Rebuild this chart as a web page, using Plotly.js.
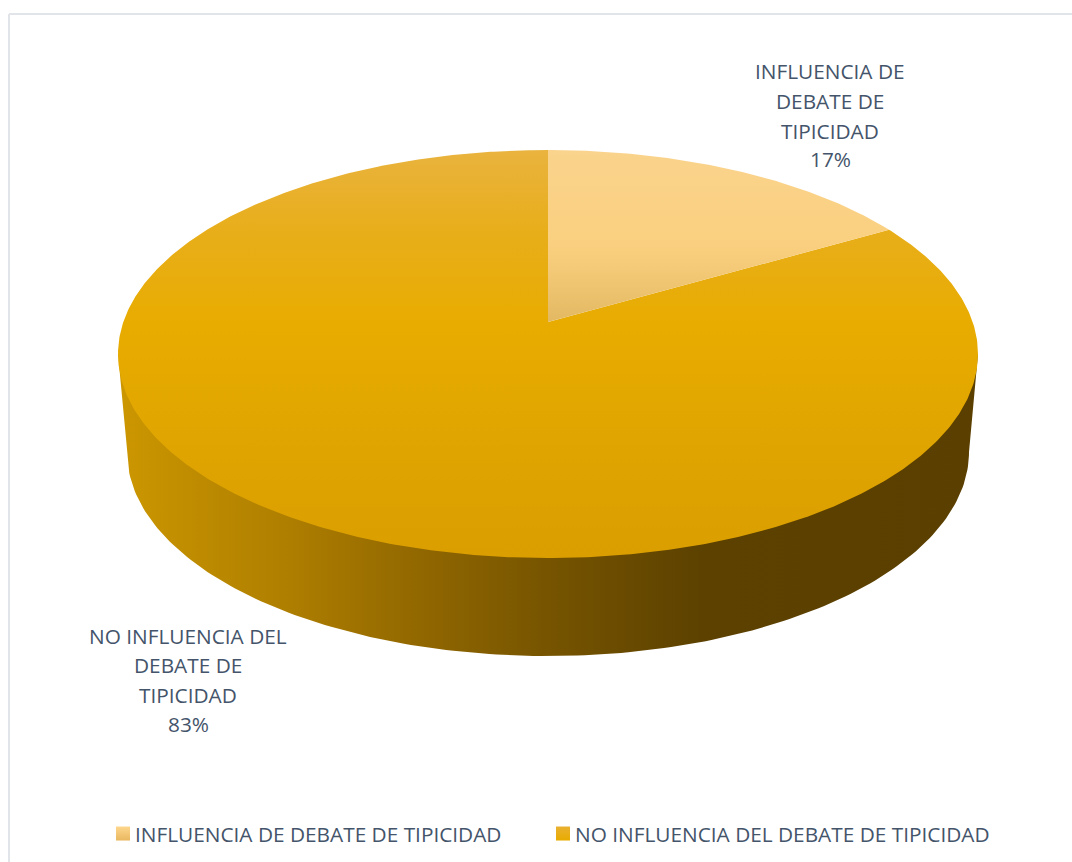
<!DOCTYPE html>
<html>
<head>
<meta charset="utf-8">
<script src="https://cdn.plot.ly/plotly-3.0.1.min.js"></script>
<style>html,body{margin:0;padding:0;background:#fff}#chart{width:1072px;height:862px}</style>
</head>
<body>
<div id="chart"></div>
<script>
// data
const categories = ["INFLUENCIA DE DEBATE DE TIPICIDAD", "NO INFLUENCIA DEL DEBATE DE TIPICIDAD"];
const shares = [16.67, 83.33];
const labelLines = [
  ["INFLUENCIA DE", "DEBATE DE", "TIPICIDAD"],
  ["NO INFLUENCIA DEL", "DEBATE DE", "TIPICIDAD"]
];

// look
const FONT = "Open Sans, sans-serif";
const TEXT = "#44546a";
const FS = 20.8;
const LEGEND_FS = 20.8;
const labelCentreX = [830, 188];
const labelLineY = [[71, 101, 131, 159], [636, 665, 695, 724]];

// perspective pie geometry (pixel-scaled axes)
const cx = 548, cy = 354, rx = 430, ry = 204;
const apexY = 322, sideDepth = 98, sideRx = 421;
const a = (apexY - cy) / ry;
function project(frac) {
  const th = 2 * Math.PI * frac, X = Math.sin(th), Y = -Math.cos(th);
  const d = 1 + a * Y;
  return [cx + rx * X * Math.sqrt(1 - a * a) / d, cy + ry * (Y + a) / d];
}
function wedge(f0, f1) {
  const xs = [cx], ys = [apexY];
  const n = Math.ceil((f1 - f0) * 720);
  for (let i = 0; i <= n; i++) {
    const p = project(f0 + (f1 - f0) * i / n);
    xs.push(p[0]); ys.push(p[1]);
  }
  xs.push(cx); ys.push(apexY);
  return {x: xs, y: ys};
}
const total = shares.reduce((s, v) => s + v, 0);
const f1 = shares[0] / total;
const w0 = wedge(0, f1), w1 = wedge(f1, 1);

// side wall
const sideX = [cx - rx], sideY = [cy];
for (let d = 180; d >= 0; d--) {
  const t = d * Math.PI / 180;
  sideX.push(cx + sideRx * Math.cos(t));
  sideY.push(cy + sideDepth + ry * Math.sin(t));
}
sideX.push(cx + rx); sideY.push(cy);
sideX.push(cx - rx); sideY.push(cy);

const surf = {
  type: "scatter", mode: "lines", fill: "toself", showlegend: false,
  hoverinfo: "skip", line: {width: 0}
};
const traces = [
  Object.assign({}, surf, {
    x: sideX, y: sideY,
    fillgradient: {type: "horizontal", start: cx - rx, stop: cx + rx, colorscale: [
      [0, "#cc9700"], [0.2, "#ae7e00"], [0.35, "#916700"], [0.5, "#765400"],
      [0.68, "#5c4100"], [1, "#5a3f00"]
    ]}
  }),
  Object.assign({}, surf, {
    x: w1.x, y: w1.y, name: categories[1],
    fillgradient: {type: "vertical", start: cy - ry, stop: cy + ry, colorscale: [
      [0, "#e9b33e"], [0.2, "#e8ae1a"], [0.43, "#e8ac00"], [0.7, "#e0a500"], [1, "#da9e00"]
    ]}
  }),
  Object.assign({}, surf, {
    x: w0.x, y: w0.y, name: categories[0],
    fillgradient: {type: "vertical", start: cy - ry, stop: apexY, colorscale: [
      [0, "#fad38c"], [0.55, "#fad080"], [0.8, "#efc470"], [1, "#e3b863"]
    ]}
  }),
  {
    type: "scatter", mode: "markers", x: [null], y: [null], name: categories[0],
    marker: {symbol: "square", size: 14, color: "#fed68c", gradient: {type: "vertical", color: "#e9b860"}},
    hoverinfo: "skip"
  },
  {
    type: "scatter", mode: "markers", x: [null], y: [null], name: categories[1],
    marker: {symbol: "square", size: 14, color: "#e9b030", gradient: {type: "vertical", color: "#e8ac00"}},
    hoverinfo: "skip"
  }
];

const annotations = [];
categories.forEach((c, i) => {
  labelLines[i].concat([Math.round(shares[i]) + "%"]).forEach((t, j) => {
    annotations.push({
      xref: "x", yref: "y", x: labelCentreX[i], y: labelLineY[i][j],
      text: t, showarrow: false, xanchor: "center", yanchor: "middle",
      font: {family: FONT, size: FS, color: TEXT}
    });
  });
});

const layout = {
  width: 1072, height: 862,
  margin: {l: 0, r: 0, t: 0, b: 0},
  paper_bgcolor: "#fff", plot_bgcolor: "#fff",
  font: {family: FONT, color: TEXT},
  xaxis: {range: [0, 1072], visible: false, fixedrange: true},
  yaxis: {range: [862, 0], visible: false, fixedrange: true},
  annotations: annotations,
  shapes: [
    {type: "line", xref: "x", yref: "y", x0: 9, x1: 9, y0: 14, y1: 862, line: {color: "#e1e4e9", width: 2}},
    {type: "line", xref: "x", yref: "y", x0: 9, x1: 1072, y0: 14, y1: 14, line: {color: "#e1e4e9", width: 2}}
  ],
  showlegend: true,
  legend: {
    orientation: "h", x: 95 / 1072, xanchor: "left", y: 1 - 834 / 862, yanchor: "middle",
    font: {family: FONT, size: LEGEND_FS, color: TEXT},
    entrywidth: 395, entrywidthmode: "pixels",
    itemwidth: 30, bgcolor: "rgba(0,0,0,0)", tracegroupgap: 0
  }
};

Plotly.newPlot("chart", traces, layout, {displayModeBar: false, staticPlot: true}).then(() => {
  document.querySelectorAll("#chart .legend .legendsymbols").forEach(el => {
    el.setAttribute("transform", "translate(8,0)");
  });
  document.querySelectorAll("#chart .legend, #chart .legend .scrollbox").forEach(el => {
    el.removeAttribute("clip-path");
    el.style.clipPath = "none";
  });
});
</script>
</body>
</html>
